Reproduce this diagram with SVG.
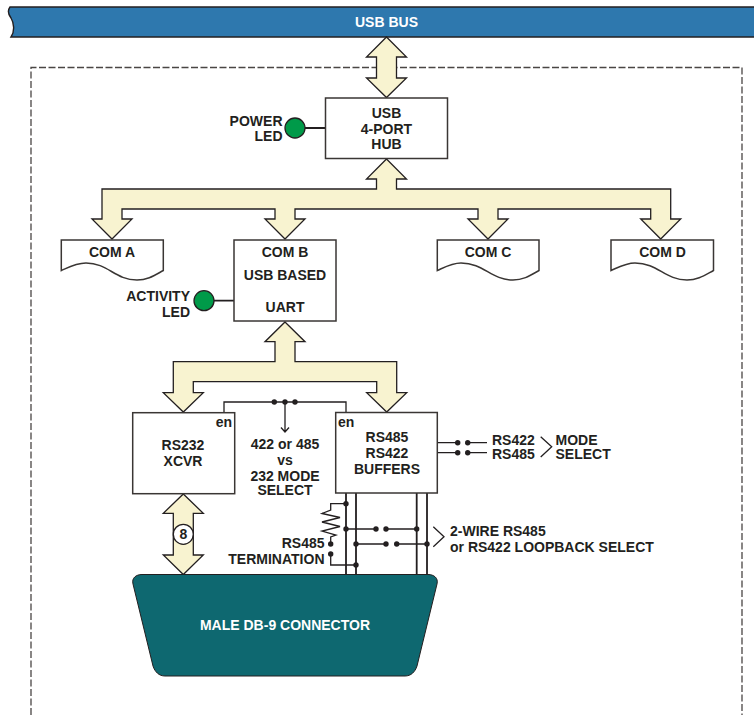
<svg xmlns="http://www.w3.org/2000/svg" width="754" height="715" viewBox="0 0 754 715">
<style>
text{font-family:"Liberation Sans",Arial,sans-serif;font-weight:700;font-size:14px;fill:#231f20;text-anchor:middle}
.e{text-anchor:end}.s{text-anchor:start}.w{fill:#fff}
.box{fill:#fff;stroke:#3a3634;stroke-width:1.5}
.bus{fill:#f8f3d0;stroke:#231f20;stroke-width:1.3;stroke-linejoin:miter}
.wire{fill:none;stroke:#231f20;stroke-width:1.3}
.wb{fill:none;stroke:#231f20;stroke-width:1.8}
.led{fill:#009a49;stroke:#231f20;stroke-width:1.3}
.dot{fill:#231f20}
</style>
<defs><circle id="d" r="2.7" class="dot"/></defs>
<g id="usb-bus"><path d="M754 7H10C7 11 8 14 11 18C14 23 15 31 11 37H754Z" fill="#2e78ae"/><path d="M754 7H10C7 11 8 14 11 18C14 23 15 31 11 37H754" fill="none" stroke="#231f20" stroke-width="1.4"/><text x="386.500" y="27" class="w">USB BUS</text></g>
<g id="boundary"><path d="M31 715V67.500H742V715" fill="none" stroke="#4a4644" stroke-width="1.300" stroke-dasharray="7 2.500"/></g>
<g id="connectors">
<path class="bus" d="M386.500 37L406.500 57H396.500V78H406.500L386.500 97.500L366.500 78H376.500V57H366.500Z"/>
<path class="bus" d="M386.500 159L406.500 179H396.500V189H670.700V219H680.700L660.700 239L640.700 219H650.700V209H498V219H508L488 239L468 219H478V209H295V219H305L285 239L265 219H275V209H122V219H132L112 239L92 219H102V189H376.500V179H366.500Z"/>
<path class="bus" d="M285 322L305 341.700H295V361.700H396.700V392.700H406.700L386.700 412L366.700 392.700H376.700V381.700H193.300V392.700H203.300L183.300 412L163.300 392.700H173.300V361.700H275V341.700H265Z"/>
<path class="bus" d="M183.300 494L203.300 513.300H193.300V555H203.300L183.300 574.500L163.300 555H173.300V513.300H163.300Z"/>
<path class="wb" d="M305 128H325.500M214 300.700H234"/>
<path class="wire" d="M224 412.500V402H346V412.500M285 402V431M281 427.500L285 432L289 427.500"/>
<path class="wb" d="M346 493V574.500M356 493V574.500M416.700 493V574.500M427 493V574.500"/>
<path class="wire" d="M346 503.700H330.700V510L322 513.500L340 517.500L322 522L340 526.500L322 531L336 535L330.700 537V544M330.700 554V565H356M346 529H376M386 529H416.700M356 544H386M396.700 544H427"/>
<path class="wire" d="M433.300 526.700L444 536.700L433.300 546.700M437 442.700H457.700M467.700 442.700H487M437 452.700H457.700M467.700 452.700H487M540.700 436.700L551.700 446.700L540.700 457"/>
<use href="#d" x="274.300" y="402"/><use href="#d" x="285" y="402"/><use href="#d" x="295" y="402"/>
<use href="#d" x="346" y="503.700"/><use href="#d" x="346" y="529"/><use href="#d" x="376" y="529"/><use href="#d" x="386" y="529"/><use href="#d" x="416.700" y="529"/>
<use href="#d" x="356" y="544"/><use href="#d" x="386" y="544"/><use href="#d" x="396.700" y="544"/><use href="#d" x="427" y="544"/>
<use href="#d" x="330.700" y="544"/><use href="#d" x="330.700" y="554"/><use href="#d" x="356" y="565"/>
<use href="#d" x="457.700" y="442.700"/><use href="#d" x="467.700" y="442.700"/><use href="#d" x="457.700" y="452.700"/><use href="#d" x="467.700" y="452.700"/>
</g>
<g id="hub"><rect class="box" x="325.500" y="98" width="122" height="60.500"/><text x="386.500" y="118">USB</text><text x="386.500" y="133.700">4-PORT</text><text x="386.500" y="149">HUB</text></g>
<g id="power-led"><circle class="led" cx="295" cy="128" r="10"/><text class="e" x="282.500" y="125.500">POWER</text><text class="e" x="282.500" y="141">LED</text></g>
<g id="com-a"><path class="box" d="M61.300 240H163.300V270.500C155 275 148 280 137 280C115 280 108 263 86 263C76 263 69 267 61.300 270.500Z"/><text x="112" y="257">COM A</text></g>
<g id="com-b"><rect class="box" x="234" y="240" width="102" height="81"/><text x="285" y="257">COM B</text><text x="285" y="280">USB BASED</text><text x="285" y="312">UART</text></g>
<g id="com-c"><path class="box" d="M437.300 240H539V270.500C531 275 524 280 513 280C491 280 484 263 461 263C452 263 445 267 437.300 270.500Z"/><text x="488" y="257">COM C</text></g>
<g id="com-d"><path class="box" d="M611 240H713.500V270.500C705 275 698 280 687 280C665 280 658 263 635 263C626 263 619 267 611 270.500Z"/><text x="662.500" y="257">COM D</text></g>
<g id="activity-led"><circle class="led" cx="204" cy="300.700" r="10"/><text class="e" x="190" y="301">ACTIVITY</text><text class="e" x="190" y="316.500">LED</text></g>
<g id="rs232"><rect class="box" x="132.700" y="412.700" width="102" height="81"/><text class="e" x="232" y="427">en</text><text x="183" y="450">RS232</text><text x="183" y="466">XCVR</text></g>
<g id="rs485"><rect class="box" x="335.700" y="412.500" width="101.600" height="80.500"/><text class="s" x="338" y="427">en</text><text x="387" y="442">RS485</text><text x="387" y="458">RS422</text><text x="387" y="473.500">BUFFERS</text></g>
<g id="mode-label"><text x="285" y="449">422 or 485</text><text x="285" y="465">vs</text><text x="285" y="481">232 MODE</text><text x="285" y="494.500">SELECT</text></g>
<g id="select-labels"><text class="s" x="492" y="445">RS422</text><text class="s" x="492" y="458.500">RS485</text><text class="s" x="555.500" y="445">MODE</text><text class="s" x="555.500" y="458.500">SELECT</text><text class="s" x="450" y="536">2-WIRE RS485</text><text class="s" x="450" y="551.500">or RS422 LOOPBACK SELECT</text></g>
<g id="termination"><text class="e" x="324.500" y="548.300">RS485</text><text class="e" x="324.500" y="564.300">TERMINATION</text></g>
<g id="width-8"><circle cx="183.300" cy="534.300" r="10" fill="#fff" stroke="#231f20" stroke-width="1.300"/><text x="183.300" y="539.300">8</text></g>
<g id="db9"><path d="M142 574.500H428C434 574.500 438.500 578 437 584L417 666C415 672 411 676 405 676H165C159 676 155 672 153 666L133 584C131.500 578 136 574.500 142 574.500Z" fill="#0e6870" stroke="#231f20" stroke-width="1"/><text class="w" x="285" y="630">MALE DB-9 CONNECTOR</text></g>
</svg>
